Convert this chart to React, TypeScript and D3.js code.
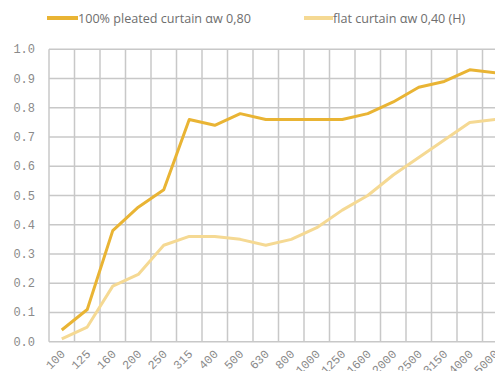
import React from "react";
import * as d3 from "d3";

const categories = ["100","125","160","200","250","315","400","500","630","800","1000","1250","1600","2000","2500","3150","4000","5000"];
const pleated = [0.04,0.11,0.38,0.46,0.52,0.76,0.74,0.78,0.76,0.76,0.76,0.76,0.78,0.82,0.87,0.89,0.93,0.92];
const flat = [0.01,0.05,0.19,0.23,0.33,0.36,0.36,0.35,0.33,0.35,0.39,0.45,0.50,0.57,0.63,0.69,0.75,0.76];
const yTicks = [0,0.1,0.2,0.3,0.4,0.5,0.6,0.7,0.8,0.9,1.0];
const seriesNames = ["100% pleated curtain αw 0,80", "flat curtain αw 0,40 (H)"];

const W = 495, H = 371;
const left = 49, bandW = 25.5, top = 49.3, bottom = 341.7;

export default function App() {
  const x = d3.scaleBand<string>().domain(categories).range([left, left + bandW * categories.length]);
  const y = d3.scaleLinear().domain([0, 1]).range([bottom, top]);
  const line = d3.line<number>()
    .x((_, i) => (x(categories[i]) as number) + x.bandwidth() / 2)
    .y((d) => y(d));
  const boundaries = d3.range(categories.length + 1).map((i) => left + i * x.bandwidth());
  const mono = "'Liberation Mono', 'DejaVu Sans Mono', monospace";
  const sans = "'Open Sans', 'Noto Sans', sans-serif";
  return (
    <svg width={W} height={H} style={{ position: "absolute", left: 0, top: 0, background: "#fff" }}>
      <g stroke="#c8c8c8" strokeWidth={1.5}>
        {yTicks.map((t) => (
          <line key={"h" + t} x1={left} x2={W + 20} y1={y(t)} y2={y(t)} />
        ))}
        {boundaries.map((b, i) => (
          <line key={"v" + i} x1={b} x2={b} y1={top} y2={bottom} />
        ))}
      </g>
      <g fontFamily={mono} fontSize={12} fill="#8a8a8a">
        {yTicks.map((t) => (
          <text key={"yl" + t} x={35} y={y(t) + 4} textAnchor="end">{t.toFixed(1)}</text>
        ))}
        {categories.map((c) => {
          const cx = (x(c) as number) + x.bandwidth() / 2 + 4;
          const cy = bottom + 13;
          return (
            <text key={"xl" + c} x={cx} y={cy} textAnchor="end" transform={`rotate(-45 ${cx} ${cy})`}>{c}</text>
          );
        })}
      </g>
      <path d={line(flat) || ""} fill="none" stroke="#f5d993" strokeWidth={3} strokeLinejoin="round" />
      <path d={line(pleated) || ""} fill="none" stroke="#e9b434" strokeWidth={3} strokeLinejoin="round" />
      <g fontFamily={sans} fontSize={12.6} fill="#6e6e6e">
        <line x1={47} x2={78} y1={18} y2={18} stroke="#e9b434" strokeWidth={4} />
        <text x={78} y={22.5}>{seriesNames[0]}</text>
        <line x1={304} x2={333} y1={18} y2={18} stroke="#f5d993" strokeWidth={4} />
        <text x={333} y={22.5}>{seriesNames[1]}</text>
      </g>
    </svg>
  );
}
